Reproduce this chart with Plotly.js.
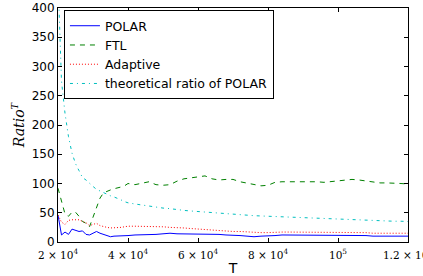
<!DOCTYPE html>
<html>
<head>
<meta charset="utf-8">
<script src="https://cdn.plot.ly/plotly-3.0.1.min.js"></script>
<style>html,body{margin:0;padding:0;background:#fff;}#chart{width:423px;height:276px;}</style>
</head>
<body>
<div id="chart"></div>
<script>
var T = [20000,21000,22000,23000,24000,25000,26000,27000,28000,29000,30000,31000,32000,33000,34000,35000,36000,37000,38000,39000,40000,
  42000,44000,46000,48000,50000,52000,54000,56000,58000,60000,62000,64000,66000,68000,70000,72000,74000,76000,78000,80000,
  82000,84000,86000,88000,90000,92000,94000,96000,98000,100000,102000,104000,106000,108000,110000,112000,114000,116000,118000,120000];

var polar = [46,12,17,13,22,20,18,19,13,12,15,18,15,13,10,9,10,10,10,11,11,
  12,12,12,13,14,15,14,14,14,14,14,13,13,12,12,11,10,9,10,10,
  11,12,12,11,11,11,11,11,11,11,11,11,11,11,10,10,10,10,10,10];

var ftl = [92,72,48,44,51,51,44,35,32,26,43,60,75,84,87,89,91,92,94,96,100,
  98,101,103,98,97,98,104,108,110,112,113,108,106,107,107,103,101,98,96,97,
  102,103,103,103,103,104,103,102,103,104,106,107,106,104,103,101,101,101,100,99];

var adaptive = [46,34,30,37,38,38,38,35,33,28,30,32,28,26,25,24,24,24,25,26,27,
  27,27,27,26,26,25,25,24,23,22,21,20,19,19,18,18,17,17,16,16,
  17,17,17,17,17,17,17,17,17,17,17,17,16,16,15,15,15,15,15,15];

var theory = [450,275,220,180,152,134,122,110,106,100,95,90,87,84,81,79,77,75,72,69,67,
  65,63,61,60,58,57,55,54,53,52,51,50,49.5,49,48,47,46,45,44.5,44,
  43.5,43,42.5,42,41.5,41,40,39.5,39,38.5,38,37.5,37,37,36.5,36,36,35.5,35.5,35];

var seriesNames = ['POLAR','FTL','Adaptive','theoretical ratio of POLAR'];
var xTickVals = [20000,40000,60000,80000,100000,120000];
var xTickText = ['2 × 10<sup>4</sup>','4 × 10<sup>4</sup>','6 × 10<sup>4</sup>','8 × 10<sup>4</sup>','10<sup>5</sup>','1.2 × 10<sup>5</sup>'];
var yTickVals = [0,50,100,150,200,250,300,350,400];

var traces = [
  {x:T, y:polar, name:seriesNames[0], mode:'lines', line:{color:'#0000ff', width:1}},
  {x:T, y:ftl, name:seriesNames[1], mode:'lines', line:{color:'#008000', width:1, dash:'5px,5px'}},
  {x:T, y:adaptive, name:seriesNames[2], mode:'lines', line:{color:'#ff0000', width:1, dash:'1px,2px'}},
  {x:T, y:theory, name:seriesNames[3], mode:'lines', line:{color:'#00bfbf', width:1, dash:'3px,4px,1px,4px'}}
];

var layout = {
  width:423, height:276,
  margin:{l:58, r:15, t:8, b:34, pad:0},
  paper_bgcolor:'#fff', plot_bgcolor:'#fff',
  font:{family:'DejaVu Sans', size:12, color:'#000'},
  showlegend:true,
  legend:{x:0.017, y:0.991, xanchor:'left', yanchor:'top', bgcolor:'#fff', bordercolor:'#000', borderwidth:1,
    font:{family:'DejaVu Sans', size:12.5, color:'#000'}, tracegroupgap:0},
  xaxis:{range:[20000,120000], tickmode:'array', tickvals:xTickVals, ticktext:xTickText,
    ticks:'inside', ticklen:4, tickcolor:'#000', showline:true, linecolor:'#000', linewidth:1, mirror:'ticks',
    showgrid:false, zeroline:false, tickfont:{family:'DejaVu Serif', size:10.5},
    ticklabeloverflow:'allow', ticklabelstandoff:3,
    title:{text:'T', font:{family:'DejaVu Sans', size:14}, standoff:4}},
  yaxis:{range:[0,400], tickmode:'array', tickvals:yTickVals,
    ticks:'inside', ticklen:4, tickcolor:'#000', showline:true, linecolor:'#000', linewidth:1, mirror:'ticks',
    showgrid:false, zeroline:false, tickfont:{family:'DejaVu Sans', size:12},
    title:{text:'<i>Ratio</i><sup><i>T</i></sup>', font:{family:'DejaVu Serif', size:14}, standoff:3}}
};

Plotly.newPlot('chart', traces, layout, {displayModeBar:false, staticPlot:true});
</script>
</body>
</html>
